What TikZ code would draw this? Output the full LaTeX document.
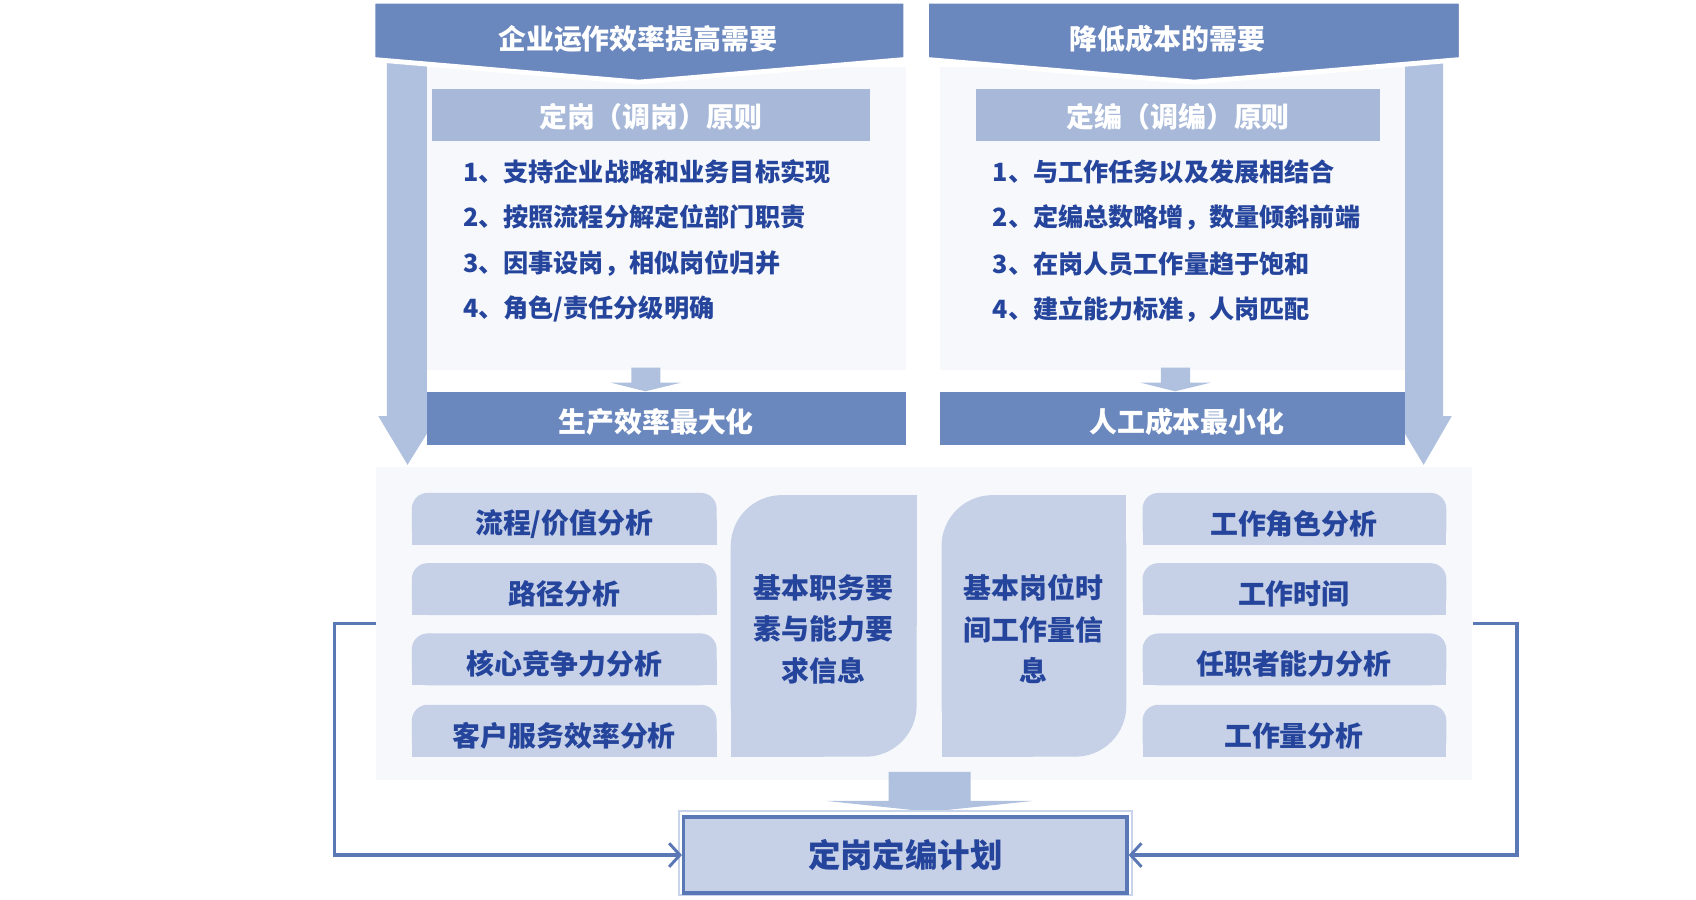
\documentclass[tikz,border=0pt]{standalone}
\usepackage{fontspec}
\setmainfont{Noto Sans CJK SC}
\usetikzlibrary{arrows.meta}
\definecolor{hdr}{HTML}{6A87BE}
\definecolor{barl}{HTML}{A7B8D9}
\definecolor{arrc}{HTML}{B0C1DF}
\definecolor{boxc}{HTML}{C6D1E7}
\definecolor{txtc}{HTML}{25449C}
\definecolor{panel}{HTML}{F6F8FC}
\definecolor{linec}{HTML}{5A77B6}
\begin{document}
\begin{tikzpicture}[x=0.55pt,y=-0.55pt,
  whitetxt/.style={text=white,font=\bfseries\fontsize{14.2}{17}\selectfont,inner sep=0},
  itemtxt/.style={text=txtc,font=\bfseries\fontsize{12.8}{15}\selectfont,anchor=west,inner sep=0},
  boxtxt/.style={text=txtc,font=\bfseries\fontsize{14.2}{21.2}\selectfont,align=center,inner sep=0},
  fb/.style={draw=linec,line width=1.7pt,-{Straight Barb[length=5.5pt,width=12pt,line width=1.5pt]}},
]
\useasboundingbox (0,0) rectangle (1569,832.5);
\fill[white] (0,0) rectangle (1569,832.5);

% upper panels
\fill[panel] (395,62) rectangle (838,342);
\fill[panel] (870,62) rectangle (1300,342);

% big side arrows
\fill[arrc] (358,55) -- (395,55) -- (395,385) -- (405,385) -- (377,430) -- (350,385) -- (358,385) -- cycle;
\fill[arrc] (1300,55) -- (1335,55) -- (1335,385) -- (1343,385) -- (1317,430) -- (1290,385) -- (1300,385) -- cycle;

% headers
\path[fill=hdr,draw=white,line width=2.5pt,line join=miter] (345,1) -- (838,1) -- (838,55) -- (591,76) -- (345,55) -- cycle;
\node[whitetxt] (h1) at (590,36) {企业运作效率提高需要};
\path[fill=hdr,draw=white,line width=2.5pt,line join=miter] (857,1) -- (1352,1) -- (1352,55) -- (1105,76) -- (857,55) -- cycle;
\node[whitetxt] (h2) at (1080,36) {降低成本的需要};

% principle bars
\fill[barl] (400,82) rectangle (805,130);
\node[whitetxt] (p1) at (602,108) {定岗（调岗）原则};
\fill[barl] (903,82) rectangle (1277,130);
\node[whitetxt] (p2) at (1090,108) {定编（调编）原则};

% items
\node[itemtxt] (l1) at (428,159) {1、支持企业战略和业务目标实现};
\node[itemtxt] (l2) at (428,201) {2、按照流程分解定位部门职责};
\node[itemtxt] (l3) at (428,244) {3、因事设岗，相似岗位归并};
\node[itemtxt] (l4) at (428,286) {4、角色/责任分级明确};
\node[itemtxt] (r1) at (918,159) {1、与工作任务以及发展相结合};
\node[itemtxt] (r2) at (918,201) {2、定编总数略增，数量倾斜前端};
\node[itemtxt] (r3) at (918,244) {3、在岗人员工作量趋于饱和};
\node[itemtxt] (r4) at (918,286) {4、建立能力标准，人岗匹配};

% small arrows
\fill[arrc] (584,340) -- (611,340) -- (611,354) -- (630,354) -- (597,362) -- (565,354) -- (584,354) -- cycle;
\fill[arrc] (1074,340) -- (1101,340) -- (1101,354) -- (1120,354) -- (1087,362) -- (1055,354) -- (1074,354) -- cycle;

% result bars
\fill[hdr] (395,363) rectangle (838,412);
\node[whitetxt] (b1) at (607,390) {生产效率最大化};
\fill[hdr] (870,363) rectangle (1300,412);
\node[whitetxt] (b2) at (1098,390) {人工成本最小化};

% lower panel
\node[fill=panel,minimum width=1014*0.55pt,minimum height=290*0.55pt,inner sep=0] (lp) at (855,577) {};

% small boxes
\foreach \y/\t/\n in {456/{流程/价值分析}/a1,521/{路径分析}/a2,586/{核心竞争力分析}/a3,652/{客户服务效率分析}/a4}{
  \fill[boxc,rounded corners=8] (381,\y) rectangle (663,\y+48);
  \fill[boxc] (381,\y+24) rectangle (663,\y+48);
  \node[boxtxt] (\n) at (522,\y+28.5) {\t};
}
\foreach \y/\t/\n in {456/{工作角色分析}/c1,521/{工作时间}/c2,586/{任职者能力分析}/c3,652/{工作量分析}/c4}{
  \fill[boxc,rounded corners=8] (1057,\y) rectangle (1338,\y+48);
  \fill[boxc] (1057,\y+24) rectangle (1338,\y+48);
  \node[boxtxt] (\n) at (1197,\y+28.5) {\t};
}

% tall boxes
\fill[boxc,rounded corners=26] (676,458) rectangle (848,700);
\fill[boxc] (762,458) rectangle (848,579);
\fill[boxc] (676,579) rectangle (762,700);
\node[boxtxt] (m1) at (762,582) {基本职务要\\素与能力要\\求信息};
\fill[boxc,rounded corners=26] (871,458) rectangle (1042,700);
\fill[boxc] (956,458) rectangle (1042,579);
\fill[boxc] (871,579) rectangle (956,700);
\node[boxtxt] (m2) at (956,582) {基本岗位时\\间工作量信\\息};

% bottom arrow
\fill[arrc] (822,714) -- (898,714) -- (898,741) -- (955,741) -- (860,751) -- (765,741) -- (822,741) -- cycle;

% plan box
\draw[draw=arrc!70,line width=1pt] (628,750) rectangle (1047,828);
\node[fill=boxc,draw=linec,line width=1.8pt,minimum width=410*0.55pt,minimum height=70*0.55pt,inner sep=0,
  text=txtc,font=\bfseries\fontsize{16.5}{20}\selectfont] (plan) at (837.5,791) {定岗定编计划};

% feedback connectors
\draw[fb] (lp.west) -- ++(-38,0) |- (plan.west);
\draw[fb] (lp.east) -- ++(41,0) |- (plan.east);
\end{tikzpicture}
\end{document}
